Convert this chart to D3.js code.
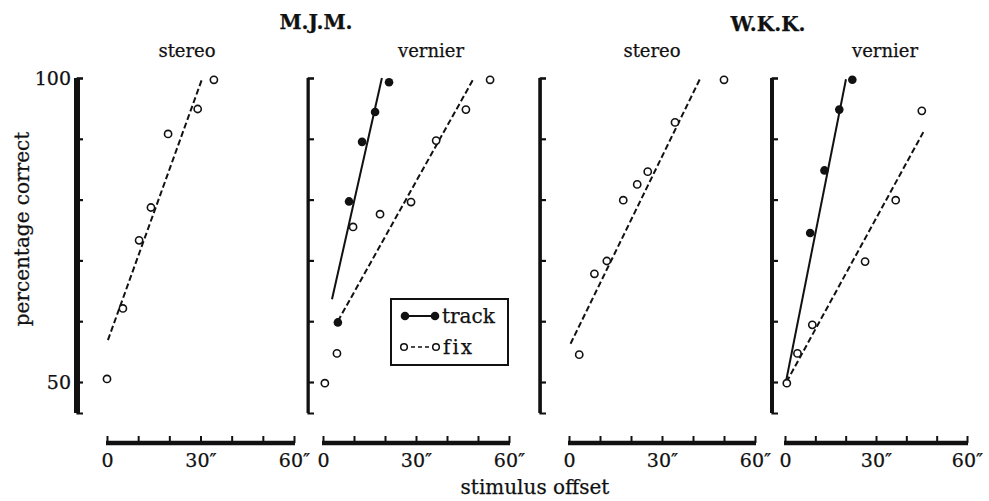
<!DOCTYPE html>
<html>
<head>
<meta charset="utf-8">
<script src="https://cdn.jsdelivr.net/npm/d3@7"></script>
<style>
  body { margin: 0; background: #fff; }
  svg { display: block; }
  text { font-family: "DejaVu Serif", serif; fill: #111; stroke: #111; stroke-width: 0.25; }
</style>
</head>
<body>
<svg id="chart" width="989" height="501"></svg>
<script>
/*  Data --------------------------------------------------*/
const subjects = ["M.J.M.", "W.K.K."];
const panelNames = ["stereo", "vernier", "stereo", "vernier"];
const xTickValues = [0, 10, 20, 30, 40, 50, 60];
const xLabelValues = [0, 30, 60];
const yTickValues = [50, 60, 70, 80, 90, 100];
const yLabelValues = [50, 100];
const legendNames = ["track", "fix"];

/*  [offset (arc sec), percentage correct] */
const mjmStereoFix = [[0, 50.5], [5.1, 62.1], [10.3, 73.3], [14.1, 78.7], [19.6, 90.8], [29.1, 94.9], [34.3, 99.7]];
const mjmStereoFixFit = [[0.3, 56.9], [30.4, 99.7]];
const mjmVernierTrack = [[4.8, 59.8], [8.4, 79.7], [12.6, 89.5], [16.8, 94.4], [21.3, 99.3]];
const mjmVernierTrackFit = [[2.9, 63.6], [19.0, 100]];
const mjmVernierFix = [[0.6, 49.8], [4.5, 54.7], [9.7, 75.5], [18.4, 77.6], [28.4, 79.6], [36.5, 89.7], [46.1, 94.8], [53.9, 99.7]];
const mjmVernierFixFit = [[4.8, 60], [48.7, 100]];
const wkkStereoFix = [[3.3, 54.5], [8.2, 67.8], [12.2, 69.9], [17.5, 79.9], [22.0, 82.5], [25.4, 84.6], [34.2, 92.7], [50.0, 99.7]];
const wkkStereoFixFit = [[0.5, 56.3], [42.3, 99.9]];
const wkkVernierTrack = [[8.3, 74.5], [13.0, 84.8], [17.9, 94.8], [22.2, 99.7]];
const wkkVernierTrackFit = [[0.3, 50], [20.1, 99.8]];
const wkkVernierFix = [[0.6, 49.8], [4.1, 54.7], [9.0, 59.4], [26.4, 69.8], [36.5, 79.9], [45.1, 94.6]];
const wkkVernierFixFit = [[0.5, 50], [45.6, 91.1]];

/*  Layout of the four panels ----------------------------*/
const panels = [
  {name: panelNames[0], yAxisX: 77,  x0: 107, xw: 187, yw: 6,   title: 187, fix: mjmStereoFix,  fixFit: mjmStereoFixFit},
  {name: panelNames[1], yAxisX: 308, x0: 323, xw: 186, yw: 3,   title: 431, fix: mjmVernierFix, fixFit: mjmVernierFixFit,
   track: mjmVernierTrack, trackFit: mjmVernierTrackFit, legend: true},
  {name: panelNames[2], yAxisX: 540, x0: 569, xw: 186, yw: 3.5, title: 652, fix: wkkStereoFix,  fixFit: wkkStereoFixFit},
  {name: panelNames[3], yAxisX: 772, x0: 785, xw: 182, yw: 4,   title: 885, fix: wkkVernierFix, fixFit: wkkVernierFixFit,
   track: wkkVernierTrack, trackFit: wkkVernierTrackFit}
];

const svg = d3.select("#chart");
const xAxisY = 443;

const y = d3.scaleLinear().domain([50, 100]).range([382, 78]);
const yAxisScale = d3.scaleLinear().domain([y.invert(413), 100]).range([413, 78]);

/*  Subject titles ---*/
svg.append("text").attr("x", 316).attr("y", 29).attr("text-anchor", "middle")
  .attr("font-size", 20).attr("font-weight", "bold").text(subjects[0]);
svg.append("text").attr("x", 768).attr("y", 31).attr("text-anchor", "middle")
  .attr("font-size", 20).attr("font-weight", "bold").text(subjects[1]);

/*  Axis titles ---*/
svg.append("text").attr("transform", "translate(29,229) rotate(-90)")
  .attr("text-anchor", "middle").attr("font-size", 20).text("percentage correct");
svg.append("text").attr("x", 535).attr("y", 494).attr("text-anchor", "middle")
  .attr("font-size", 20).text("stimulus offset");

const line = (x) => d3.line().x(d => x(d[0])).y(d => y(d[1]));

panels.forEach((p, i) => {
  const x = d3.scaleLinear().domain([0, 60]).range([p.x0, p.x0 + p.xw]);
  const g = svg.append("g");

  g.append("text").attr("x", p.title).attr("y", 57).attr("text-anchor", "middle")
    .attr("font-size", 18).text(p.name);

  /*  y axis: thick bar plus inward ticks ---*/
  const yAx = g.append("g").attr("transform", "translate(" + p.yAxisX + ",0)")
    .call(d3.axisRight(yAxisScale).tickValues(yTickValues).tickSize(6).tickSizeOuter(6).tickFormat(""));
  yAx.selectAll("path, line").attr("stroke", "#111").attr("stroke-width", 2.2);
  g.append("line").attr("x1", p.yAxisX).attr("x2", p.yAxisX)
    .attr("y1", yAxisScale.range()[0]).attr("y2", yAxisScale.range()[1])
    .attr("stroke", "#111").attr("stroke-width", p.yw);

  if (i === 0) {
    const yl = g.append("g").attr("transform", "translate(" + (p.yAxisX - 4) + ",0)")
      .call(d3.axisLeft(y).tickValues(yLabelValues).tickSize(0).tickPadding(2));
    yl.select(".domain").remove();
    yl.selectAll("text").attr("font-family", "DejaVu Serif").attr("font-size", 19).attr("fill", "#111");
  }

  /*  x axis: thick bar, ticks up, labels below ---*/
  const xt = g.append("g").attr("transform", "translate(0," + xAxisY + ")")
    .call(d3.axisTop(x).tickValues(xTickValues).tickSize(7).tickFormat(""));
  xt.select(".domain").remove();
  xt.selectAll("line").attr("stroke", "#111").attr("stroke-width", 2);
  g.append("line").attr("x1", x(0) - 1).attr("x2", x(60) + 1)
    .attr("y1", xAxisY).attr("y2", xAxisY).attr("stroke", "#111").attr("stroke-width", 4.5);
  const xl = g.append("g").attr("transform", "translate(0," + xAxisY + ")")
    .call(d3.axisBottom(x).tickValues(xLabelValues).tickSize(0).tickPadding(11)
      .tickFormat(d => d === 0 ? "0" : d + "\u2033"));
  xl.select(".domain").remove();
  xl.selectAll("text").attr("font-family", "DejaVu Serif").attr("font-size", 19).attr("fill", "#111");

  /*  fitted lines ---*/
  g.append("path").datum(p.fixFit).attr("d", line(x)).attr("fill", "none")
    .attr("stroke", "#111").attr("stroke-width", 2).attr("stroke-dasharray", "6,3");
  if (p.trackFit) {
    g.append("path").datum(p.trackFit).attr("d", line(x)).attr("fill", "none")
      .attr("stroke", "#111").attr("stroke-width", 2);
  }

  /*  points ---*/
  g.selectAll(".fix").data(p.fix).join("circle").attr("class", "fix")
    .attr("cx", d => x(d[0])).attr("cy", d => y(d[1])).attr("r", 3.6)
    .attr("fill", "#fff").attr("stroke", "#111").attr("stroke-width", 1.6);
  if (p.track) {
    g.selectAll(".track").data(p.track).join("circle").attr("class", "track")
      .attr("cx", d => x(d[0])).attr("cy", d => y(d[1])).attr("r", 4.3)
      .attr("fill", "#111");
  }

  /*  legend ---*/
  if (p.legend) {
    const lg = g.append("g");
    lg.append("rect").attr("x", 391).attr("y", 299).attr("width", 117).attr("height", 66)
      .attr("fill", "#fff").attr("stroke", "#111").attr("stroke-width", 2);
    lg.append("line").attr("x1", 405).attr("x2", 435).attr("y1", 316).attr("y2", 316)
      .attr("stroke", "#111").attr("stroke-width", 2);
    lg.selectAll(".lt").data([405, 435]).join("circle").attr("class", "lt")
      .attr("cx", d => d).attr("cy", 316).attr("r", 4.3).attr("fill", "#111");
    lg.append("text").attr("x", 442).attr("y", 323).attr("font-size", 20).text(legendNames[0]);
    lg.append("line").attr("x1", 404).attr("x2", 436).attr("y1", 347).attr("y2", 347)
      .attr("stroke", "#111").attr("stroke-width", 1.6).attr("stroke-dasharray", "4,3");
    lg.selectAll(".lf").data([404, 436]).join("circle").attr("class", "lf")
      .attr("cx", d => d).attr("cy", 347).attr("r", 3.3)
      .attr("fill", "#fff").attr("stroke", "#111").attr("stroke-width", 1.5);
    lg.append("text").attr("x", 443).attr("y", 354).attr("font-size", 20)
      .attr("letter-spacing", 2).text(legendNames[1]);
  }
});
</script>
</body>
</html>
